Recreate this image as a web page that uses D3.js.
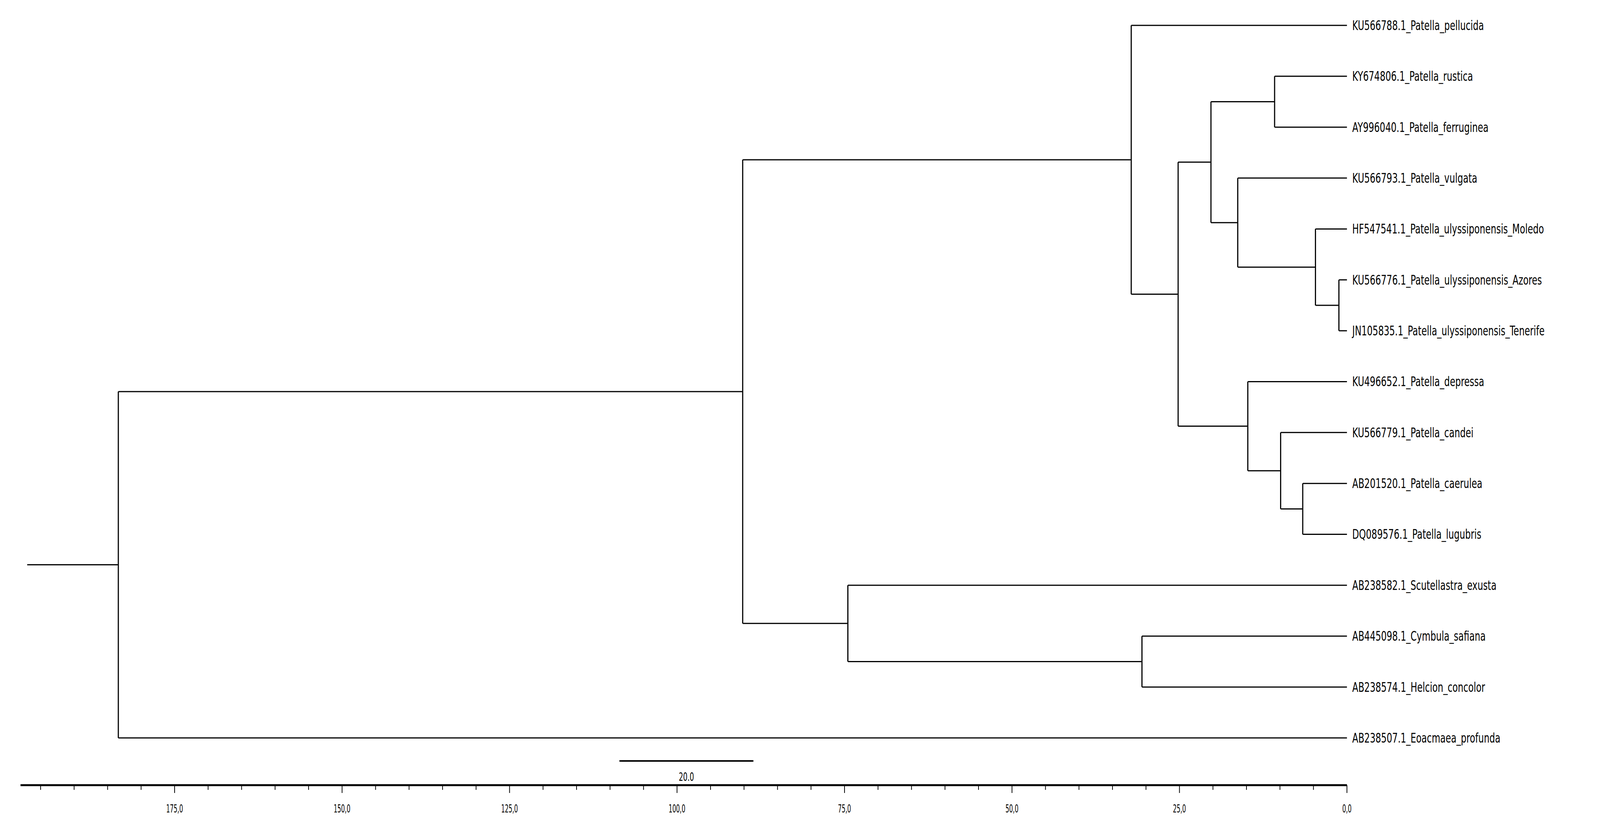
<!DOCTYPE html>
<html lang="en">
  <head>
    <meta charset="UTF-8">
    <title>Tree</title>
    <script src="https://cdn.jsdelivr.net/npm/d3@7"></script>
    <style>
      html, body { margin: 0; padding: 0; background: #fff; overflow: hidden; }
      svg { display: block; width: 100vw; height: 100vh; }
      text { font-family: 'DejaVu Sans', sans-serif; fill: #000; }
    </style>
  </head>
  <body>
    <script>
      // tree nodes: id, parent, height (distance from tips, in axis units)
      const leafOrder = ["KU566788.1_Patella_pellucida", "KY674806.1_Patella_rustica", "AY996040.1_Patella_ferruginea",
        "KU566793.1_Patella_vulgata", "HF547541.1_Patella_ulyssiponensis_Moledo",
        "KU566776.1_Patella_ulyssiponensis_Azores", "JN105835.1_Patella_ulyssiponensis_Tenerife",
        "KU496652.1_Patella_depressa", "KU566779.1_Patella_candei", "AB201520.1_Patella_caerulea",
        "DQ089576.1_Patella_lugubris", "AB238582.1_Scutellastra_exusta", "AB445098.1_Cymbula_safiana",
        "AB238574.1_Helcion_concolor", "AB238507.1_Eoacmaea_profunda"];
      const internalIds = ["root", "n1", "n2", "n3", "n4", "n5", "n6", "n7", "n8", "n9", "n10", "n11", "n12", "n13"];
      const internalParents = ["", "root", "n1", "n2", "n3", "n4", "n4", "n6", "n7", "n3", "n9", "n10", "n1", "n12"];
      const internalHeights = [183.4, 90.2, 32.2, 25.2, 20.3, 10.8, 16.3, 4.7, 1.2, 14.8, 9.9, 6.6, 74.5, 30.6];
      const leafParents = ["n2", "n5", "n5", "n6", "n7", "n8", "n8", "n9", "n10", "n11", "n11", "n12", "n13", "n13", "root"];
      const rootStem = 197;
      const axisMax = 198;
      const majorTicks = [175, 150, 125, 100, 75, 50, 25, 0];
      const scaleBarLength = 20;

      const W = 4211, H = 2090;
      const svg = d3.select("body").append("svg")
        .attr("viewBox", `0 0 ${W} ${H}`).attr("preserveAspectRatio", "none");

      const rows = internalIds.map((id, i) => ({ id, parent: internalParents[i] || null, h: internalHeights[i] }))
        .concat(leafOrder.map((id, i) => ({ id, parent: leafParents[i], h: 0 })));
      const root = d3.stratify().id(d => d.id).parentId(d => d.parent)(rows);

      const x = d3.scaleLinear().domain([axisMax, 0]).range([54, 3545]);
      const y = d3.scalePoint().domain(leafOrder).range([65, 1890]);

      root.eachAfter(n => {
        if (n.children) {
          n.children.sort((a, b) => a.py - b.py);
          n.py = (n.children[0].py + n.children[n.children.length - 1].py) / 2;
        } else n.py = y(n.id);
      });

      const g = svg.append("g").attr("stroke", "#000").attr("stroke-width", 3).attr("fill", "none");
      root.each(n => {
        if (n.children) {
          g.append("line")
            .attr("x1", x(n.data.h)).attr("x2", x(n.data.h))
            .attr("y1", n.children[0].py).attr("y2", n.children[n.children.length - 1].py);
          n.children.forEach(c => {
            g.append("line")
              .attr("x1", x(n.data.h)).attr("x2", x(c.data.h))
              .attr("y1", c.py).attr("y2", c.py);
          });
        }
      });
      g.append("line").attr("x1", x(rootStem)).attr("x2", x(root.data.h))
        .attr("y1", root.py).attr("y2", root.py);

      svg.selectAll("text.leaf").data(root.leaves()).enter().append("text")
        .attr("class", "leaf")
        .attr("transform", d => `translate(${x(0) + 14},${d.py}) scale(0.68,1)`)
        .attr("dy", "0.35em")
        .attr("font-size", 34)
        .text(d => d.id);

      // scale bar
      const sbEnd = 88.6;
      svg.append("line").attr("stroke", "#000").attr("stroke-width", 4)
        .attr("x1", x(sbEnd + scaleBarLength)).attr("x2", x(sbEnd))
        .attr("y1", 1949).attr("y2", 1949);
      svg.append("text")
        .attr("transform", `translate(${(x(sbEnd + scaleBarLength) + x(sbEnd)) / 2},2000) scale(0.6,1)`)
        .attr("text-anchor", "middle").attr("font-size", 30).text(scaleBarLength.toFixed(1));

      // axis
      const ax = svg.append("g").attr("transform", "translate(0,2011)");
      ax.append("line").attr("stroke", "#000").attr("stroke-width", 5)
        .attr("x1", x(axisMax)).attr("x2", x(0));
      ax.selectAll("line.minor").data(d3.range(0, axisMax, 5)).enter().append("line")
        .attr("stroke", "#000").attr("stroke-width", 2)
        .attr("x1", d => x(d)).attr("x2", d => x(d))
        .attr("y1", 0).attr("y2", d => d % 25 === 0 ? 20 : 12);
      ax.selectAll("text").data(majorTicks).enter().append("text")
        .attr("transform", d => `translate(${x(d)},70) scale(0.55,1)`)
        .attr("text-anchor", "middle").attr("font-size", 28)
        .text(d => d.toFixed(1).replace(".", ","));
    </script>
  </body>
</html>
